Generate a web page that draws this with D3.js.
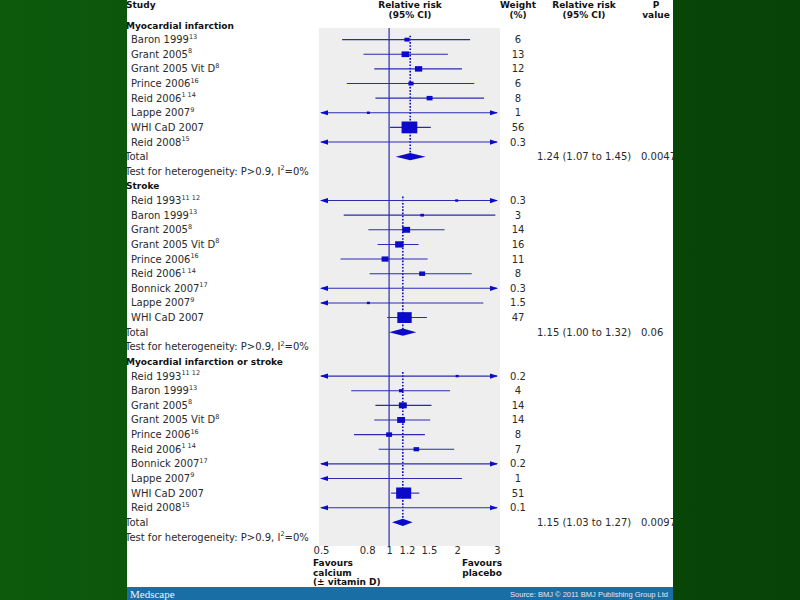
<!DOCTYPE html>
<html>
<head>
<meta charset="utf-8">
<script src="https://cdn.jsdelivr.net/npm/d3@7"></script>
<style>
  body { margin: 0; }
  svg { display: block; }
</style>
</head>
<body>
<script>

// section titles
let sectionTitles = ["Myocardial infarction", "Stroke", "Myocardial infarction or stroke"];

// myocardial infarction  (null = point not shown in figure)
let miStudy  = ["Baron 1999", "Grant 2005", "Grant 2005 Vit D", "Prince 2006", "Reid 2006", "Lappe 2007", "WHI CaD 2007", "Reid 2008"];
let miRef    = ["13", "8", "8", "16", "1 14", "9", "", "15"];
let miRR     = [1.20, 1.18, 1.35, 1.25, 1.51, 0.81, 1.23, null];
let miLower  = [0.62, 0.77, 0.86, 0.65, 0.87, 0.10, 1.01, 0.10];
let miUpper  = [2.28, 1.82, 2.10, 2.38, 2.63, 6.50, 1.53, 40];
let miWeight = [6, 13, 12, 6, 8, 1, 56, 0.3];

// stroke
let stStudy  = ["Reid 1993", "Baron 1999", "Grant 2005", "Grant 2005 Vit D", "Prince 2006", "Reid 2006", "Bonnick 2007", "Lappe 2007", "WHI CaD 2007"];
let stRef    = ["11 12", "13", "8", "8", "16", "1 14", "17", "9", ""];
let stRR     = [1.99, 1.40, 1.19, 1.11, 0.96, 1.40, null, 0.81, 1.17];
let stLower  = [0.10, 0.63, 0.81, 0.89, 0.61, 0.82, 0.10, 0.10, 0.98];
let stUpper  = [40, 2.95, 1.76, 1.35, 1.48, 2.32, 30, 2.61, 1.47];
let stWeight = [0.3, 3, 14, 16, 11, 8, 0.3, 1.5, 47];

// myocardial infarction or stroke
let bothStudy  = ["Reid 1993", "Baron 1999", "Grant 2005", "Grant 2005 Vit D", "Prince 2006", "Reid 2006", "Bonnick 2007", "Lappe 2007", "WHI CaD 2007", "Reid 2008"];
let bothRef    = ["11 12", "13", "8", "8", "16", "1 14", "17", "9", "", "15"];
let bothRR     = [2.00, 1.13, 1.15, 1.13, 1.00, 1.32, null, null, 1.16, null];
let bothLower  = [0.10, 0.68, 0.87, 0.86, 0.70, 0.90, 0.10, 0.10, 1.02, 0.10];
let bothUpper  = [40, 1.86, 1.54, 1.52, 1.44, 1.94, 30, 2.10, 1.36, 40];
let bothWeight = [0.2, 4, 14, 14, 8, 7, 0.2, 1, 51, 0.1];

// pooled results
let totalRR    = [1.24, 1.15, 1.15];
let totalLower = [1.07, 1.00, 1.03];
let totalUpper = [1.45, 1.32, 1.27];
let totalP     = ["0.0047", "0.06", "0.0097"];
let hetP       = ["P>0.9", "P>0.9", "P>0.9"];
let hetI2      = ["0%", "0%", "0%"];

// axis ticks
let tickValues = [0.5, 0.8, 1, 1.2, 1.5, 2, 3];


let width = 800;
let height = 600;
let blue = "#0a0ac8";
let lineBlue = "#2b2bb0";
let textColor = "#2a2a2a";
let font = "'DejaVu Sans', Verdana, sans-serif";

let sections = [
  { study: miStudy, ref: miRef, rr: miRR, lo: miLower, hi: miUpper, w: miWeight },
  { study: stStudy, ref: stRef, rr: stRR, lo: stLower, hi: stUpper, w: stWeight },
  { study: bothStudy, ref: bothRef, rr: bothRR, lo: bothLower, hi: bothUpper, w: bothWeight }
];

// flatten into rows
let rows = [];
let idx = 0;
sections.forEach((s, k) => {
  rows.push({ type: "header", k: k, i: idx++ });
  s.study.forEach((name, j) => {
    rows.push({ type: "study", k: k, name: name, ref: s.ref[j], rr: s.rr[j], lo: s.lo[j], hi: s.hi[j], w: s.w[j], i: idx++ });
  });
  rows.push({ type: "total", k: k, i: idx++ });
  rows.push({ type: "het", k: k, i: idx++ });
});

let x = d3.scaleLog()
  .domain([0.5, 3])
  .range([321, 497]);

let y = d3.scaleLinear()
  .domain([0, rows.length - 1])
  .range([25, 537]);

let svg = d3.select("body")
  .append("svg")
  .attr("width", width)
  .attr("height", height);

// green slide background
let defs = svg.append("defs");
let grad = defs.append("linearGradient").attr("id", "bg").attr("x1", 0).attr("x2", 1).attr("y1", 0).attr("y2", 0);
grad.append("stop").attr("offset", "0%").attr("stop-color", "#0c5a0c");
grad.append("stop").attr("offset", "100%").attr("stop-color", "#074207");
svg.append("rect").attr("width", width).attr("height", height).attr("fill", "url(#bg)");

defs.append("clipPath").attr("id", "page")
  .append("rect").attr("x", 127).attr("y", 0).attr("width", 546).attr("height", 600);

let page = svg.append("g").attr("clip-path", "url(#page)");
page.append("rect").attr("x", 127).attr("y", 0).attr("width", 546).attr("height", 587).attr("fill", "#fff");

// grey plot panel
page.append("rect")
  .attr("x", 319).attr("y", 28)
  .attr("width", 181).attr("height", 518)
  .attr("fill", "#eeeeef");

// column headers
let hdr = page.append("g")
  .attr("font-family", font)
  .attr("font-size", 9)
  .attr("font-weight", "bold")
  .attr("fill", "#111");

hdr.append("text").attr("x", 126).attr("y", 8).text("Study");
[["Relative risk", "(95% CI)", 410], ["Weight", "(%)", 518], ["Relative risk", "(95% CI)", 584], ["P", "value", 656]]
  .forEach(h => {
    hdr.append("text").attr("x", h[2]).attr("y", 8).attr("text-anchor", "middle").text(h[0]);
    hdr.append("text").attr("x", h[2]).attr("y", 17.5).attr("text-anchor", "middle").text(h[1]);
  });

// line of no effect
page.append("line")
  .attr("x1", x(1)).attr("x2", x(1))
  .attr("y1", 28).attr("y2", 546)
  .attr("stroke", lineBlue).attr("stroke-width", 1.2);

// pooled estimate dotted lines
let totals = rows.filter(r => r.type == "total");
totals.forEach(r => {
  let first = rows.find(d => d.k == r.k && d.type == "study");
  page.append("line")
    .attr("x1", x(totalRR[r.k])).attr("x2", x(totalRR[r.k]))
    .attr("y1", y(first.i) - 4).attr("y2", y(r.i))
    .attr("stroke", blue).attr("stroke-width", 1.6)
    .attr("stroke-dasharray", "1.6,1.6");
});

let labels = page.append("g")
  .attr("font-family", font)
  .attr("font-size", 10)
  .attr("fill", textColor);

// section headers
rows.filter(r => r.type == "header").forEach(r => {
  labels.append("text")
    .attr("x", 126).attr("y", y(r.i) + 3.5)
    .attr("font-size", 9).attr("font-weight", "bold").attr("fill", "#111")
    .text(sectionTitles[r.k]);
});

// study rows
let studies = rows.filter(r => r.type == "study");

studies.forEach(r => {
  let t = labels.append("text").attr("x", 131).attr("y", y(r.i) + 3.5);
  t.append("tspan").text(r.name);
  if (r.ref) {
    t.append("tspan").attr("dy", -4.5).attr("font-size", 6.5).text(r.ref);
  }
  labels.append("text")
    .attr("x", 518).attr("y", y(r.i) + 3.5)
    .attr("text-anchor", "middle")
    .text(r.w);
});

let marks = page.append("g");

// confidence interval lines
marks.selectAll("line.ci")
  .data(studies)
  .join("line")
    .attr("class", "ci")
    .attr("x1", d => x(Math.max(d.lo, 0.5)))
    .attr("x2", d => x(Math.min(d.hi, 3)))
    .attr("y1", d => y(d.i))
    .attr("y2", d => y(d.i))
    .attr("stroke", lineBlue)
    .attr("stroke-width", 1.1);

// arrows where CI runs off the axis
marks.selectAll("path.left")
  .data(studies.filter(d => d.lo < 0.5))
  .join("path")
    .attr("d", d => `M${x(0.5) - 1},${y(d.i)} l8,-2.6 l0,5.2 Z`)
    .attr("fill", blue);

marks.selectAll("path.right")
  .data(studies.filter(d => d.hi > 3))
  .join("path")
    .attr("d", d => `M${x(3) + 1},${y(d.i)} l-8,-2.6 l0,5.2 Z`)
    .attr("fill", blue);

// study squares, area proportional to weight
let side = w => Math.max(3, 2.1 * Math.sqrt(w));
marks.selectAll("rect.est")
  .data(studies.filter(d => d.rr != null))
  .join("rect")
    .attr("class", "est")
    .attr("x", d => x(d.rr) - side(d.w) / 2)
    .attr("y", d => y(d.i) - Math.max(2.4, side(d.w) * 0.75) / 2)
    .attr("width", d => side(d.w))
    .attr("height", d => Math.max(2.4, side(d.w) * 0.75))
    .attr("fill", blue);

// pooled diamonds
marks.selectAll("path.diamond")
  .data(totals)
  .join("path")
    .attr("d", d => {
      let cy = y(d.i);
      return `M${x(totalLower[d.k])},${cy} L${x(totalRR[d.k])},${cy - 3.6} L${x(totalUpper[d.k])},${cy} L${x(totalRR[d.k])},${cy + 3.6} Z`;
    })
    .attr("fill", blue);

totals.forEach(r => {
  labels.append("text").attr("x", 125).attr("y", y(r.i) + 3.5).text("Total");
  labels.append("text").attr("x", 537).attr("y", y(r.i) + 3.5)
    .text(`${totalRR[r.k].toFixed(2)} (${totalLower[r.k].toFixed(2)} to ${totalUpper[r.k].toFixed(2)})`);
  labels.append("text").attr("x", 641).attr("y", y(r.i) + 3.5).text(totalP[r.k]);
});

rows.filter(r => r.type == "het").forEach(r => {
  let t = labels.append("text").attr("x", 125).attr("y", y(r.i) + 3.5);
  t.append("tspan").text(`Test for heterogeneity: ${hetP[r.k]}, I`);
  t.append("tspan").attr("dy", -4.5).attr("font-size", 6.5).text("2");
  t.append("tspan").attr("dy", 4.5).text(`=${hetI2[r.k]}`);
});

// x axis (labels only)
let xAxis = g => g
  .attr("transform", `translate(0,${546})`)
  .call(d3.axisBottom(x).tickValues(tickValues).tickFormat(d => d).tickSize(0).tickPadding(1))
  .call(g => g.select(".domain").remove())
  .call(g => g.selectAll("text")
      .attr("font-family", font)
      .attr("font-size", 10)
      .attr("fill", textColor));

page.append("g").call(xAxis);

let fav = page.append("g")
  .attr("font-family", font)
  .attr("font-size", 9)
  .attr("font-weight", "bold")
  .attr("fill", "#111");
["Favours", "calcium", "(± vitamin D)"].forEach((s, i) => {
  fav.append("text").attr("x", 313).attr("y", 566 + i * 9.5).text(s);
});
["Favours", "placebo"].forEach((s, i) => {
  fav.append("text").attr("x", 502).attr("y", 566 + i * 9.5).attr("text-anchor", "end").text(s);
});

// footer bar
page.append("rect")
  .attr("x", 127).attr("y", 587)
  .attr("width", 546).attr("height", 13)
  .attr("fill", "#1a6ea6");
page.append("text")
  .attr("x", 130).attr("y", 597.5)
  .attr("font-family", "'Liberation Serif', 'DejaVu Serif', serif")
  .attr("font-size", 11)
  .attr("fill", "#f2f2f2")
  .text("Medscape");
page.append("text")
  .attr("x", 668).attr("y", 596.5)
  .attr("text-anchor", "end")
  .attr("font-family", "'Liberation Sans', Arial, sans-serif")
  .attr("font-size", 7.5)
  .attr("fill", "#e6e6e6")
  .text("Source: BMJ © 2011 BMJ Publishing Group Ltd");

</script>
</body>
</html>
